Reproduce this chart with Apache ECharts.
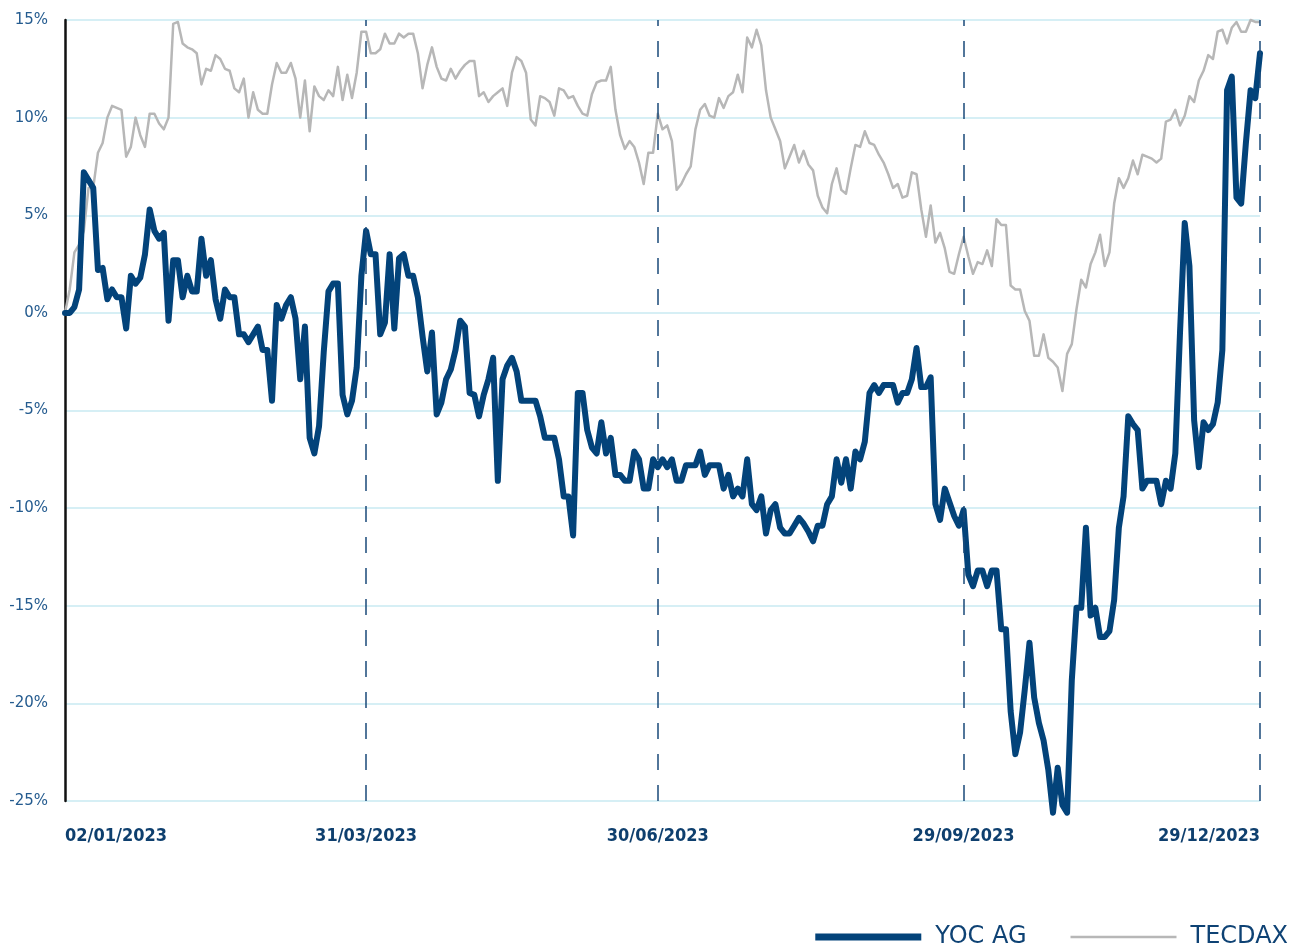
<!DOCTYPE html>
<html>
<head>
<meta charset="utf-8">
<script src="https://cdn.jsdelivr.net/npm/echarts@6/dist/echarts.min.js"></script>
<style>
html,body{margin:0;padding:0;background:#fff;}
#chart{width:1290px;height:949px;}
</style>
</head>
<body>
<div id="chart"></div>
<script>
// Trading calendar (Xetra 2023): weekdays minus exchange holidays
const startDate = '2023-01-02';
const endDate = '2023-12-29';
const holidays = ['07/04/2023', '10/04/2023', '01/05/2023', '25/12/2023', '26/12/2023'];
const tickLabels = ['02/01/2023', '31/03/2023', '30/06/2023', '29/09/2023', '29/12/2023'];
const quarterLines = ['31/03/2023', '30/06/2023', '29/09/2023', '29/12/2023'];
const yTicks = [-25, -20, -15, -10, -5, 0, 5, 10, 15];

// Performance in %
const yocAG = [
  0, 0, 0.3, 1.2, 7.2, 6.8, 6.4, 2.2, 2.3, 0.7,
  1.2, 0.8, 0.8, -0.8, 1.9, 1.5, 1.8, 3.0, 5.3, 4.2,
  3.8, 4.1, -0.4, 2.7, 2.7, 0.8, 1.9, 1.1, 1.1, 3.8,
  1.9, 2.7, 0.7, -0.3, 1.2, 0.8, 0.8, -1.1, -1.1, -1.5,
  -1.1, -0.7, -1.9, -1.9, -4.5, 0.4, -0.3, 0.4, 0.8, -0.3,
  -3.4, -0.7, -6.4, -7.2, -5.8, -2.0, 1.1, 1.5, 1.5, -4.2,
  -5.2, -4.5, -2.8, 1.9, 4.2, 3.0, 3.0, -1.1, -0.5, 3.0,
  -0.8, 2.8, 3.0, 1.9, 1.9, 0.8, -1.2, -3.0, -1.0, -5.2,
  -4.6, -3.4, -2.9, -1.9, -0.4, -0.7, -4.1, -4.2, -5.3, -4.2,
  -3.4, -2.3, -8.6, -3.4, -2.7, -2.3, -3.0, -4.5, -4.5, -4.5,
  -4.5, -5.3, -6.4, -6.4, -6.4, -7.5, -9.4, -9.4, -11.4, -4.1,
  -4.1, -6.0, -6.9, -7.2, -5.6, -7.2, -6.4, -8.3, -8.3, -8.6,
  -8.6, -7.1, -7.5, -9.0, -9.0, -7.5, -7.9, -7.5, -7.9, -7.5,
  -8.6, -8.6, -7.8, -7.8, -7.8, -7.1, -8.3, -7.8, -7.8, -7.8,
  -9.0, -8.3, -9.4, -9.0, -9.4, -7.5, -9.8, -10.1, -9.4, -11.3,
  -10.1, -9.8, -11.0, -11.3, -11.3, -10.9, -10.5, -10.8, -11.2, -11.7,
  -10.9, -10.9, -9.8, -9.4, -7.5, -8.7, -7.5, -9.0, -7.1, -7.5,
  -6.6, -4.1, -3.7, -4.1, -3.7, -3.7, -3.7, -4.6, -4.1, -4.1,
  -3.4, -1.8, -3.8, -3.8, -3.3, -9.8, -10.6, -9.0, -9.7, -10.4,
  -10.9, -10.1, -13.4, -14.0, -13.2, -13.2, -14.0, -13.2, -13.2, -16.2,
  -16.2, -20.4, -22.6, -21.5, -19.3, -16.9, -19.7, -21.0, -21.9, -23.4,
  -25.6, -23.3, -25.2, -25.6, -18.8, -15.1, -15.1, -11.0, -15.5, -15.1,
  -16.6, -16.6, -16.3, -14.7, -11.0, -9.4, -5.3, -5.7, -6.0, -9.0,
  -8.6, -8.6, -8.6, -9.8, -8.6, -9.0, -7.2, -1.0, 4.6, 2.4,
  -5.5, -7.9, -5.6, -6.0, -5.7, -4.6, -1.9, 11.4, 12.1, 5.9,
  5.6, 8.7, 11.4, 11.0, 13.3
];

const tecDax = [
  0, 1.2, 3.1, 3.5, 4.2, 6.4, 6.4, 8.2, 8.7, 10.0,
  10.6, 10.5, 10.4, 8.0, 8.5, 10.0, 9.1, 8.5, 10.2, 10.2,
  9.7, 9.4, 10.0, 14.8, 14.9, 13.8, 13.6, 13.5, 13.3, 11.7,
  12.5, 12.4, 13.2, 13.0, 12.5, 12.4, 11.5, 11.3, 12.0, 10.0,
  11.3, 10.4, 10.2, 10.2, 11.7, 12.8, 12.3, 12.3, 12.8, 12.0,
  10.0, 11.9, 9.3, 11.6, 11.1, 10.9, 11.4, 11.1, 12.6, 10.9,
  12.2, 11.0, 12.3, 14.4, 14.4, 13.3, 13.3, 13.5, 14.3, 13.8,
  13.8, 14.3, 14.1, 14.3, 14.3, 13.3, 11.5, 12.7, 13.6, 12.6,
  12.0, 11.9, 12.5, 12.0, 12.4, 12.7, 12.9, 12.9, 11.1, 11.3,
  10.8, 11.1, 11.3, 11.5, 10.6, 12.3, 13.1, 12.9, 12.3, 9.9,
  9.6, 11.1, 11.0, 10.8, 10.1, 11.5, 11.4, 11.0, 11.1, 10.6,
  10.2, 10.1, 11.2, 11.8, 11.9, 11.9, 12.6, 10.4, 9.1, 8.4,
  8.8, 8.5, 7.7, 6.6, 8.2, 8.2, 10.2, 9.4, 9.6, 8.8,
  6.3, 6.6, 7.1, 7.5, 9.4, 10.4, 10.7, 10.1, 10.0, 11.0,
  10.5, 11.1, 11.3, 12.2, 11.3, 14.1, 13.6, 14.5, 13.7, 11.4,
  10.0, 9.4, 8.8, 7.4, 8.0, 8.6, 7.7, 8.3, 7.6, 7.3,
  6.0, 5.4, 5.1, 6.6, 7.4, 6.3, 6.1, 7.4, 8.6, 8.5,
  9.3, 8.7, 8.6, 8.1, 7.7, 7.1, 6.4, 6.6, 5.9, 6.0,
  7.2, 7.1, 5.3, 3.9, 5.5, 3.6, 4.1, 3.3, 2.1, 2.0,
  3.0, 3.9, 2.9, 2.0, 2.6, 2.5, 3.2, 2.4, 4.8, 4.5,
  4.5, 1.4, 1.2, 1.2, 0.1, -0.4, -2.2, -2.2, -1.1, -2.3,
  -2.5, -2.8, -4.0, -2.1, -1.6, 0.2, 1.7, 1.3, 2.5, 3.1,
  4.0, 2.4, 3.1, 5.6, 6.9, 6.4, 6.9, 7.8, 7.1, 8.1,
  8.0, 7.9, 7.7, 7.9, 9.8, 9.9, 10.4, 9.6, 10.1, 11.1,
  10.8, 11.9, 12.4, 13.2, 13.0, 14.4, 14.5, 13.8, 14.6, 14.9,
  14.4, 14.4, 15.0, 14.9, 14.9
];

function pad(n) { return (n < 10 ? '0' : '') + n; }
function buildDates() {
  const out = [];
  const d = new Date(startDate + 'T00:00:00Z');
  const end = new Date(endDate + 'T00:00:00Z');
  while (d <= end) {
    const wd = d.getUTCDay();
    const s = pad(d.getUTCDate()) + '/' + pad(d.getUTCMonth() + 1) + '/' + d.getUTCFullYear();
    if (wd !== 0 && wd !== 6 && holidays.indexOf(s) < 0) out.push(s);
    d.setUTCDate(d.getUTCDate() + 1);
  }
  return out;
}
const dates = buildDates();

// legend icons: full-height bar for YOC AG, thin centred bar for TECDAX
const thickIcon = 'path://M0,0L106,0L106,7L0,7Z';
const thinIcon = 'path://M0,0L0,0M0,7L0,7M0,2.2L106,2.2L106,4.8L0,4.8Z';

const chart = echarts.init(document.getElementById('chart'), null, {renderer: 'canvas'});
chart.setOption({
  animation: false,
  backgroundColor: '#ffffff',
  grid: {left: 65, right: 30, top: 20, bottom: 148, containLabel: false},
  legend: {
    right: 2,
    top: 925,
    padding: 0,
    itemWidth: 106,
    itemHeight: 7,
    itemGap: 44,
    textStyle: {fontFamily: 'DejaVu Sans', fontSize: 24, color: '#0e4274', padding: [0, 0, 0, 9]},
    data: [
      {name: 'YOC AG', icon: thickIcon, itemStyle: {color: '#03437a'}},
      {name: 'TECDAX', icon: thinIcon, itemStyle: {color: '#b7b7b7'}}
    ]
  },
  xAxis: {
    type: 'category',
    boundaryGap: false,
    data: dates,
    axisLine: {show: false},
    axisTick: {show: false},
    splitLine: {show: false},
    axisLabel: {
      interval: function (i, v) { return tickLabels.indexOf(v) >= 0; },
      showMinLabel: true,
      showMaxLabel: true,
      alignMinLabel: 'left',
      alignMaxLabel: 'right',
      margin: 26,
      fontFamily: "'Liberation Sans Narrow', 'DejaVu Sans Condensed', 'DejaVu Sans', sans-serif",
      fontWeight: 'bold',
      fontSize: 18,
      color: '#0e3f6e'
    }
  },
  yAxis: {
    type: 'value',
    min: yTicks[0],
    max: yTicks[yTicks.length - 1],
    interval: 5,
    axisLine: {show: true, lineStyle: {color: '#111111', width: 2.5}},
    axisTick: {show: false},
    splitLine: {show: true, lineStyle: {color: '#d6eff5', width: 2}},
    axisLabel: {
      formatter: '{value}%',
      margin: 17,
      fontFamily: 'DejaVu Sans',
      fontSize: 15,
      color: '#245b8f'
    }
  },
  series: [
    {
      name: 'TECDAX',
      type: 'line',
      data: tecDax,
      symbol: 'none',
      clip: false,
      z: 2,
      lineStyle: {color: '#b7b7b7', width: 2.5, join: 'round'},
      itemStyle: {color: '#b7b7b7'}
    },
    {
      name: 'YOC AG',
      type: 'line',
      data: yocAG,
      symbol: 'none',
      clip: false,
      z: 3,
      lineStyle: {color: '#03437a', width: 6, join: 'round', cap: 'round'},
      itemStyle: {color: '#03437a'},
      markLine: {
        silent: true,
        symbol: ['none', 'none'],
        label: {show: false},
        lineStyle: {color: '#1a4a7a', width: 1.5, type: [16, 15]},
        data: quarterLines.map(function (d) { return {xAxis: d}; })
      }
    }
  ]
});
</script>
</body>
</html>
